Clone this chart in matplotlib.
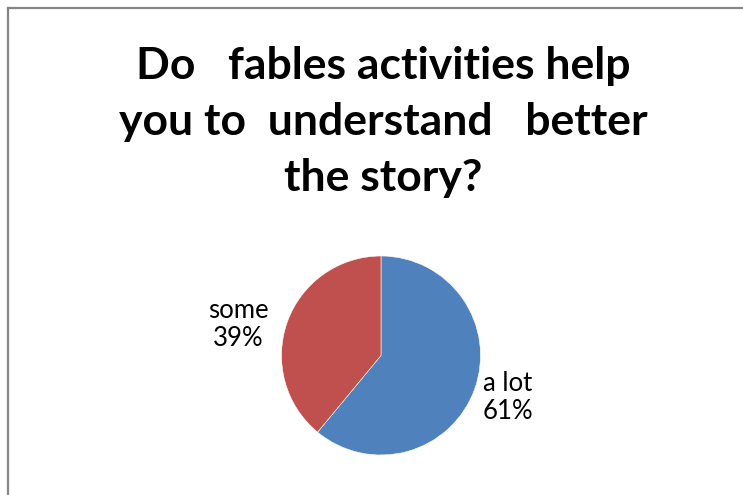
import matplotlib.pyplot as plt
from matplotlib.lines import Line2D

title = "Do   fables activities help\nyou to  understand   better\nthe story?"
labels = ["a lot", "some"]
shares = [61, 39]
colors = ["#4F81BD", "#C0504D"]

W, H = 743, 495
fig = plt.figure(figsize=(W / 100, H / 100), dpi=100)
fig.patch.set_facecolor("white")

# chart frame (top and left edges visible)
fig.add_artist(Line2D([8 / W, 1], [1 - 8 / H, 1 - 8 / H], color="#868686", lw=1.6))
fig.add_artist(Line2D([8 / W, 8 / W], [0, 1 - 8 / H], color="#868686", lw=1.6))

fig.text(383 / W, 1 - 122 / H, title, ha="center", va="center",
         fontsize=32, fontweight="bold", family="Lato", linespacing=1.5)

# pie sits in a square axes: centre (381, 355.5), radius ~99.5 px
cx, cy, r = 381, 355.5, 99.5
ax = fig.add_axes([(cx - r) / W, (H - cy - r) / H, 2 * r / W, 2 * r / H])
wedges, texts = ax.pie(shares, colors=colors, startangle=90, counterclock=False,
                       labels=[f"{l}\n{s}%" for l, s in zip(labels, shares)],
                       labeldistance=1.05,
                       wedgeprops=dict(edgecolor="white", linewidth=0.4),
                       textprops=dict(fontsize=18.5, family="Lato"))
for t in texts:
    t.set_multialignment("center")
    t.set_linespacing(1.15)
texts[1].set_position((-1.13, 0.31))
texts[0].set_position((1.02, -0.42))
ax.set_xlim(-1, 1)
ax.set_ylim(-1, 1)
ax.set_aspect("equal")
ax.axis("off")

fig.savefig("out.png", dpi=100)
